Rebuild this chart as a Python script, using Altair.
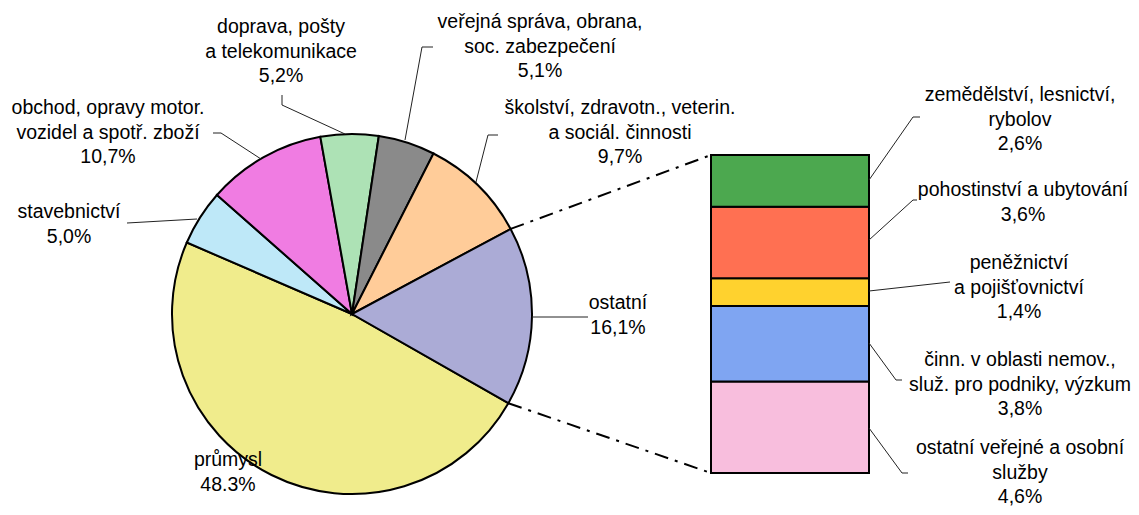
import math
import altair as alt
import pandas as pd

# ---------------- data ----------------
pie_cats = ["průmysl", "stavebnictví", "obchod", "doprava", "veřejná správa", "školství", "ostatní"]
pie_vals = [48.3, 5.0, 10.7, 5.2, 5.1, 9.7, 16.1]
pie_text = ["průmysl", "stavebnictví", "obchod, opravy motor.\nvozidel a spotř. zboží",
            "doprava, pošty\na telekomunikace", "veřejná správa, obrana,\nsoc. zabezpečení",
            "školství, zdravotn., veterin.\na sociál. činnosti", "ostatní"]
pie_pct = ["48.3%", "5,0%", "10,7%", "5,2%", "5,1%", "9,7%", "16,1%"]

# bar of "ostatní" (bottom to top)
bar_cats = ["ostatní veřejné", "činn. nemov.", "peněžnictví", "pohostinství", "zemědělství"]
bar_vals = [4.6, 3.8, 1.4, 3.6, 2.6]
bar_text = ["ostatní veřejné a osobní\nslužby", "činn. v oblasti nemov.,\nsluž. pro podniky, výzkum",
            "peněžnictví\na pojišťovnictví", "pohostinství a ubytování",
            "zemědělství, lesnictví,\nrybolov"]
bar_pct = ["4,6%", "3,8%", "1,4%", "3,6%", "2,6%"]

# ---------------- styles / layout ----------------
pie_colors = ["#F0EC8C", "#BEE8F8", "#F07CE2", "#ADE2B5", "#8A8A8A", "#FFCC99", "#ABABD6"]
bar_colors = ["#F8BEDD", "#7FA5F2", "#FFD22E", "#FF7052", "#4CA84F"]
OFF = 8  # page margin -> plot coords
CX, CY, R = 352, 314, 180
BAR_X0, BAR_X1, BAR_TOP, BAR_BOT = 711, 869, 155, 473
START_DEG = 119.7
FONT = "Liberation Sans"
FS = 19.5
LH = 24.5

# (centre x, first-line centre y)
pie_label_pos = [(228, 460), (69, 212), (108, 108), (281, 27), (540, 22), (620, 108), (618, 303)]
bar_label_pos = [(1020, 448), (1020, 360), (1019, 263), (1023, 190), (1020, 95)]

leaders = [
    (282, 95, 282, 105), (282, 105, 345, 134),
    (433, 47, 422, 47), (422, 47, 405, 140),
    (213, 133, 221, 133), (221, 133, 261, 159),
    (127, 223, 197, 219),
    (498, 135, 488, 135), (488, 135, 476, 182),
    (532, 317, 588, 317),
    (920, 117, 913, 117), (913, 117, 869, 180),
    (917, 200, 913, 200), (913, 200, 869, 240),
    (950, 282, 869, 291),
    (902, 380, 896, 380), (896, 380, 869, 343),
    (908, 473, 902, 473), (902, 473, 869, 428),
]

# ---------------- build ----------------
all_cats = pie_cats + bar_cats
cscale = alt.Scale(domain=all_cats, range=pie_colors + bar_colors)

pie_df = pd.DataFrame({"cat": pie_cats, "val": pie_vals, "idx": list(range(len(pie_cats)))})
bar_df = pd.DataFrame({"cat": bar_cats, "val": bar_vals, "idx": list(range(len(bar_cats)))})

a0 = math.radians(START_DEG)
pie = alt.Chart(pie_df).mark_arc(radius=R, stroke="black", strokeWidth=2).encode(
    theta=alt.Theta("val:Q", stack=True, scale=alt.Scale(range=[a0, a0 + 2 * math.pi])),
    order=alt.Order("idx:Q"),
    color=alt.Color("cat:N", scale=cscale, legend=None),
    x=alt.value(CX - OFF), y=alt.value(CY - OFF),
)

bar = alt.Chart(bar_df).transform_stack(
    stack="val", groupby=[], as_=["y0", "y1"], sort=[alt.SortField("idx", order="ascending")]
).mark_rect(stroke="black", strokeWidth=2).encode(
    x=alt.value(BAR_X0 - OFF), x2=alt.value(BAR_X1 - OFF),
    y=alt.Y("y0:Q", axis=None,
            scale=alt.Scale(domain=[0, sum(bar_vals)], range=[BAR_BOT - OFF, BAR_TOP - OFF])),
    y2="y1:Q",
    color=alt.Color("cat:N", scale=cscale, legend=None),
)

# connector lines from the "ostatní" slice edges to the bar
tot = sum(pie_vals)
ang_end = START_DEG  # end of ostatní (clockwise) == start of průmysl
ang_start = START_DEG - pie_vals[-1] / tot * 360.0
def pt(deg):
    r = math.radians(deg)
    return CX + R * math.sin(r), CY - R * math.cos(r)
p1, p2 = pt(ang_start), pt(ang_end)
conn_df = pd.DataFrame({
    "x": [p1[0] - OFF, p2[0] - OFF], "y": [p1[1] - OFF, p2[1] - OFF],
    "x2": [BAR_X0 - OFF, BAR_X0 - OFF], "y2": [BAR_TOP - OFF, BAR_BOT - OFF],
})
conn = alt.Chart(conn_df).mark_rule(color="black", strokeWidth=2, strokeDash=[14, 7, 3, 7]).encode(
    x=alt.X("x:Q", scale=None), y=alt.Y("y:Q", scale=None),
    x2="x2:Q", y2="y2:Q",
)

lead_df = pd.DataFrame([{"x": a - OFF, "y": b - OFF, "x2": c - OFF, "y2": d - OFF} for a, b, c, d in leaders])
lead = alt.Chart(lead_df).mark_rule(color="#222222", strokeWidth=1).encode(
    x=alt.X("x:Q", scale=None), y=alt.Y("y:Q", scale=None),
    x2="x2:Q", y2="y2:Q",
)

lab_rows = []
for t, p, (lx, ly) in zip(pie_text, pie_pct, pie_label_pos):
    lab_rows.append({"t": t + "\n" + p, "x": lx - OFF, "y": ly - OFF})
for t, p, (lx, ly) in zip(bar_text, bar_pct, bar_label_pos):
    lab_rows.append({"t": t + "\n" + p, "x": lx - OFF, "y": ly - OFF})
lab_df = pd.DataFrame(lab_rows)
labels = alt.Chart(lab_df).mark_text(
    font=FONT, fontSize=FS, lineHeight=LH, lineBreak="\n", align="center", baseline="middle", color="black"
).encode(
    x=alt.X("x:Q", scale=None), y=alt.Y("y:Q", scale=None), text="t:N",
)

chart = alt.layer(pie, bar, conn, lead, labels).resolve_scale(
    x="independent", y="independent"
).properties(
    width=1123, height=499, padding=0, autosize="none"
).configure_view(stroke=None)

chart.save("out.html", embed_options={"renderer": "svg", "actions": False})
